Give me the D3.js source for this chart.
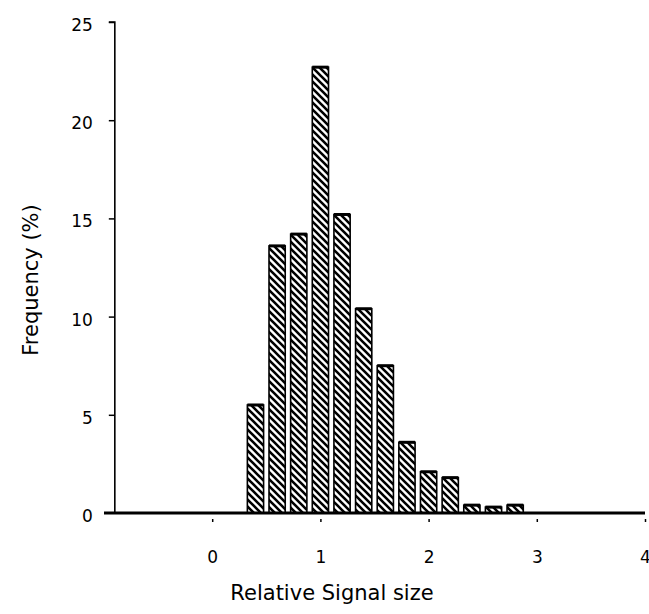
<!DOCTYPE html>
<html><head><meta charset="utf-8">
<script src="https://cdn.jsdelivr.net/npm/d3@7"></script>
<style>body{margin:0;background:#fff}svg{display:block}</style>
</head><body>
<script>
const binCenters = [0.4,0.6,0.8,1.0,1.2,1.4,1.6,1.8,2.0,2.2,2.4,2.6,2.8];
const frequency  = [5.5,13.6,14.2,22.7,15.2,10.4,7.5,3.6,2.1,1.8,0.4,0.3,0.4];
const xTicks = [0,1,2,3,4];
const yTicks = [0,5,10,15,20,25];
const xTitle = "Relative Signal size";
const yTitle = "Frequency (%)";

const W = 649, H = 614;
const svg = d3.select("body").append("svg").attr("width", W).attr("height", H);
const x = d3.scaleLinear().domain([-1, 4]).range([104, 645]);
const y = d3.scaleLinear().domain([0, 25]).range([513, 22]);
const font = "'DejaVu Sans', sans-serif";

const defs = svg.append("defs");
const pat = defs.append("pattern").attr("id","hatch").attr("patternUnits","userSpaceOnUse")
  .attr("width",7).attr("height",7);
pat.append("rect").attr("width",7).attr("height",7).attr("fill","#fff");
pat.append("path").attr("d","M-2,-2 L9,9 M-9,-2 L2,9 M5,-2 L16,9").attr("stroke","#000").attr("stroke-width",2.6);

const bw = 0.15;
svg.append("g").selectAll("rect").data(binCenters).join("rect")
  .attr("x", d => x(d - bw/2))
  .attr("width", d => x(d + bw/2) - x(d - bw/2))
  .attr("y", (d,i) => y(frequency[i]))
  .attr("height", (d,i) => y(0) - y(frequency[i]))
  .attr("fill","url(#hatch)").attr("stroke","#000").attr("stroke-width",1.6);
// thick tops
svg.append("g").selectAll("line").data(binCenters).join("line")
  .attr("x1", d => x(d - bw/2)).attr("x2", d => x(d + bw/2))
  .attr("y1", (d,i) => y(frequency[i])).attr("y2", (d,i) => y(frequency[i]))
  .attr("stroke","#000").attr("stroke-width",3);

// x axis
const xa = svg.append("g").attr("transform",`translate(0,${y(0)})`)
  .call(d3.axisBottom(x).tickValues(xTicks).tickSize(4).tickPadding(34).tickFormat(d3.format("d")));
xa.select(".domain").attr("stroke-width",3).attr("d",`M${x(-1)},0H${x(4)}`);
xa.selectAll(".tick line").attr("y1",6).attr("y2",9).attr("stroke-width",1.5);
xa.selectAll(".tick text").attr("font-family",font).attr("font-size",17).attr("fill","#000");

// y axis
const ya = svg.append("g").attr("transform",`translate(${x(-0.9)},0)`)
  .call(d3.axisLeft(y).tickValues(yTicks).tickSize(6).tickPadding(16));
ya.select(".domain").attr("stroke-width",1.6).attr("d",`M-6,${y(25)}H0V${y(0)}`);
ya.selectAll(".tick line").attr("stroke-width",1.5);
ya.selectAll(".tick").filter(d => d === 0).select("line").remove();
ya.selectAll(".tick text").attr("font-family",font).attr("font-size",17).attr("fill","#000").attr("dy","0.5em");

svg.append("text").attr("x", 332).attr("y", 600).attr("text-anchor","middle")
  .attr("font-family",font).attr("font-size",21).text(xTitle);
svg.append("text").attr("transform","translate(38,280) rotate(-90)").attr("text-anchor","middle")
  .attr("font-family",font).attr("font-size",21).text(yTitle);
</script>
</body></html>
